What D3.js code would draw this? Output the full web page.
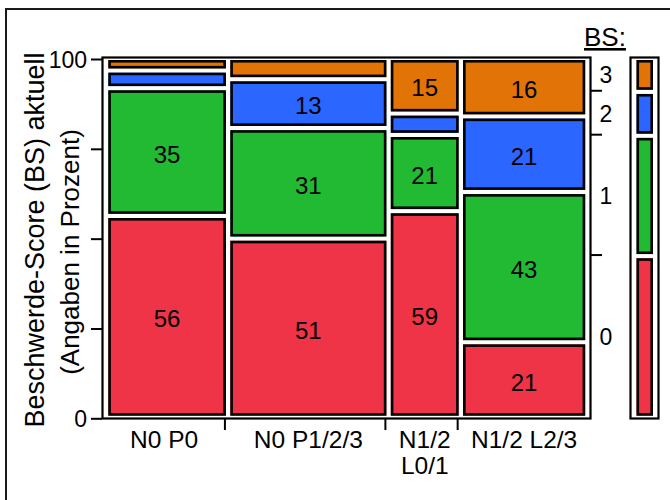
<!DOCTYPE html>
<html>
<head>
<meta charset="utf-8">
<script src="https://cdn.jsdelivr.net/npm/d3@7"></script>
<style>
  html, body { margin: 0; padding: 0; background: #fff; }
  svg { display: block; font-family: "Liberation Sans", Arial, sans-serif; }
</style>
</head>
<body>
<svg id="chart" width="670" height="500"></svg>
<script>
// Mosaic: Beschwerde-Score (BS) per N/P/L group, column widths by group size
const groups = ["N0 P0", "N0 P1/2/3", "N1/2 L0/1", "N1/2 L2/3"];
const groupLabels = [["N0 P0"], ["N0 P1/2/3"], ["N1/2", "L0/1"], ["N1/2 L2/3"]];
const groupN = [52, 69, 30, 54];
const scores = ["0", "1", "2", "3"];
const bs0 = [56, 51, 59, 21];
const bs1 = [35, 31, 21, 43];
const bs2 = [3.8, 13, 5, 21];
const bs3 = [2.4, 5, 15, 16];
const yTicks = [0, 25, 50, 75, 100];
const yTickLabels = ["0", "", "", "", "100"];

const colors = ["#EF3447", "#22BA32", "#2A66FF", "#E27407"];
const series = [bs0, bs1, bs2, bs3];

const svg = d3.select("#chart");

// outer frame
svg.append("rect").attr("x", 6).attr("y", 9).attr("width", 700).attr("height", 600)
  .attr("fill", "none").attr("stroke", "#1a1a1a").attr("stroke-width", 2);

// panel geometry
const frame = { x0: 102.5, x1: 590.5, y0: 57.5, y1: 418.5 };
const inner = { x0: 108.3, x1: 585.2, y0: 60, y1: 415.7 };
const gapX = 4.4, gapY = 4.2;

const totalN = d3.sum(groupN);
const xw = d3.scaleLinear().domain([0, totalN])
  .range([0, (inner.x1 - inner.x0) - gapX * (groups.length - 1)]);
const cumN = groupN.map((_, i) => d3.sum(groupN.slice(0, i)));
const colX = i => inner.x0 + xw(cumN[i]) + i * gapX;
const colW = i => xw(groupN[i]);

const availH = (inner.y1 - inner.y0) - gapY * (scores.length - 1);

function stackColumn(vals) {
  const tot = d3.sum(vals);
  const h = d3.scaleLinear().domain([0, tot]).range([0, availH]);
  let bottom = inner.y1;
  return vals.map((v, k) => {
    const hh = h(v);
    const seg = { k, v, y: bottom - hh, h: hh };
    bottom = bottom - hh - gapY;
    return seg;
  });
}

function drawBox(g, x, y, w, h, fill) {
  g.append("rect").attr("x", x).attr("y", y).attr("width", w).attr("height", h).attr("fill", fill);
  g.append("rect").attr("x", x + 1.3).attr("y", y + 1.3)
    .attr("width", Math.max(0, w - 2.6)).attr("height", Math.max(0, h - 2.6))
    .attr("fill", "none").attr("stroke", "#000").attr("stroke-width", 2.6);
}

// panel frame
svg.append("rect").attr("x", frame.x0).attr("y", frame.y0)
  .attr("width", frame.x1 - frame.x0).attr("height", frame.y1 - frame.y0)
  .attr("fill", "none").attr("stroke", "#000").attr("stroke-width", 2.2);

const cells = svg.append("g");
groups.forEach((gName, i) => {
  const vals = series.map(s => s[i]);
  const segs = stackColumn(vals);
  segs.forEach(s => {
    drawBox(cells, colX(i), s.y, colW(i), s.h, colors[s.k]);
    if (s.v >= 10) {
      cells.append("text")
        .attr("x", colX(i) + colW(i) / 2)
        .attr("y", s.y + s.h / 2 + 10.5)
        .attr("text-anchor", "middle")
        .attr("font-size", 24)
        .attr("fill", "#000")
        .text(d3.format("d")(s.v));
    }
  });
});

// left axis
const y = d3.scaleLinear().domain([0, 100]).range([418.3, 59]);
const yAxis = svg.append("g").attr("transform", `translate(${frame.x0 - 0.5},0)`)
  .call(d3.axisLeft(y).tickValues(yTicks).tickSize(11).tickPadding(4)
    .tickFormat((d, i) => yTickLabels[i]));
yAxis.select(".domain").remove();
yAxis.selectAll("line").attr("stroke", "#000").attr("stroke-width", 2);
yAxis.selectAll("text").attr("font-size", 23).attr("fill", "#000")
  .attr("font-family", "Liberation Sans, Arial, sans-serif").attr("dy", "0.36em");

// bottom ticks at column boundaries
groups.slice(0, -1).forEach((_, i) => {
  const xt = colX(i) + colW(i) - 1;
  svg.append("line").attr("x1", xt).attr("x2", xt).attr("y1", frame.y1).attr("y2", 430)
    .attr("stroke", "#000").attr("stroke-width", 2);
});
groupLabels.forEach((lines, i) => {
  const cx = colX(i) + colW(i) / 2 - (i === 0 ? 3 : 0);
  lines.forEach((t, j) => {
    svg.append("text").attr("x", cx).attr("y", 447.5 + j * 26)
      .attr("text-anchor", "middle").attr("font-size", 24.5).attr("fill", "#000").text(t);
  });
});

// y title
svg.append("text")
  .attr("transform", "translate(44,240) rotate(-90)")
  .attr("text-anchor", "middle").attr("font-size", 27).attr("fill", "#000")
  .text("Beschwerde-Score (BS) aktuell");
svg.append("text")
  .attr("transform", "translate(79,252) rotate(-90)")
  .attr("text-anchor", "middle").attr("font-size", 26).attr("fill", "#000")
  .text("(Angaben in Prozent)");

// marginal distribution of BS (weighted by group size)
const marg = scores.map((_, k) => d3.sum(groups.map((_, i) => series[k][i] / d3.sum(series.map(s => s[i])) * groupN[i])) / totalN * 100);
const margSegs = stackColumn(marg);

// legend bar
const leg = { x0: 630.5, x1: 658.5 };
svg.append("rect").attr("x", leg.x0).attr("y", frame.y0)
  .attr("width", leg.x1 - leg.x0).attr("height", frame.y1 - frame.y0)
  .attr("fill", "none").attr("stroke", "#000").attr("stroke-width", 2.2);
margSegs.forEach(s => drawBox(svg, 636.5, s.y, 16.5, s.h, colors[s.k]));

// right axis: ticks between categories, labels at segment centres
margSegs.slice(1).forEach(s => {
  const yt = s.y + s.h + 1;
  svg.append("line").attr("x1", frame.x1).attr("x2", 602).attr("y1", yt).attr("y2", yt)
    .attr("stroke", "#000").attr("stroke-width", 2);
});
margSegs.forEach(s => {
  svg.append("text").attr("x", 606).attr("y", s.y + s.h / 2 + 8.5)
    .attr("text-anchor", "middle").attr("font-size", 23).attr("fill", "#000").text(scores[s.k]);
});

// legend heading
svg.append("text").attr("x", 605).attr("y", 46).attr("text-anchor", "middle")
  .attr("font-size", 26).attr("fill", "#000").attr("text-decoration", "underline").text("BS:");
</script>
</body>
</html>
